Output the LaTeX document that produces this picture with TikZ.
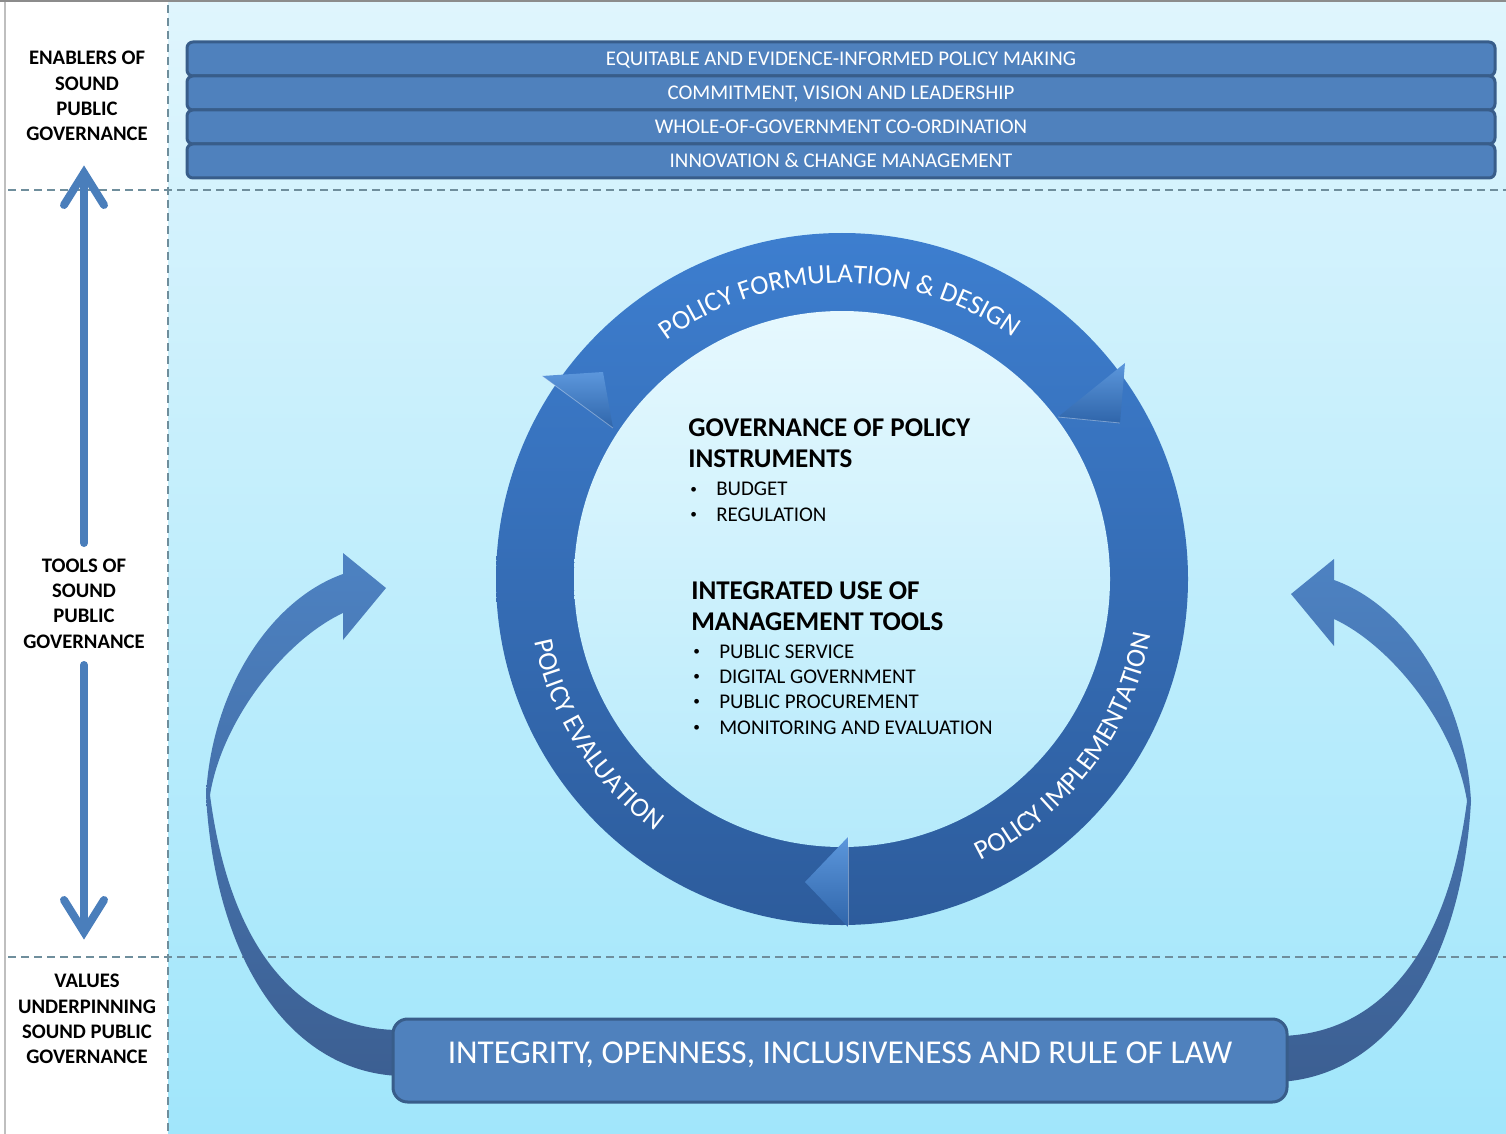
\documentclass[tikz,border=0pt]{standalone}
\usepackage{fontspec}
\setmainfont{Carlito}
\usetikzlibrary{decorations.text}
\definecolor{barfill}{HTML}{4F81BD}
\definecolor{barline}{HTML}{385D8A}
\definecolor{dashc}{HTML}{6F8E9C}
\definecolor{varrow}{HTML}{4A7EBB}
\definecolor{bgtop}{HTML}{DFF5FD}
\definecolor{bgbot}{HTML}{A1E6FB}
\definecolor{ringtop}{HTML}{3D7ECF}
\definecolor{ringbot}{HTML}{2D5C9C}
\definecolor{headlight}{HTML}{5C97DC}
\definecolor{headdark}{HTML}{2F65AA}
\definecolor{carrowtop}{HTML}{4D82C2}
\definecolor{carrowbot}{HTML}{3C5F92}
\definecolor{innertop}{HTML}{E6F8FE}
\definecolor{innerbot}{HTML}{B5EAFB}
\newcommand\ringfont{\fontsize{20.5}{24}\selectfont}
\newcommand\smallbullet{\makebox[21pt][l]{\hspace{1.5pt}\raisebox{1.8pt}{\fontsize{10}{10}\selectfont\textbullet}}}
\begin{document}
\begin{tikzpicture}[x=0.75pt,y=0.75pt,
  barbox/.style={draw=barline, fill=barfill, line width=2.25pt, rounded corners=4.5pt,
    minimum width=981pt, minimum height=25.5pt, inner sep=0pt, text=white,
    font=\fontsize{15.7}{18}\selectfont, text height=10.1pt, text depth=0pt},
  sidelabel/.style={align=center, inner sep=0pt, font=\bfseries\fontsize{15.5}{19}\selectfont},
  titletext/.style={anchor=base west, inner sep=0pt, font=\bfseries\fontsize{20.3}{24}\selectfont},
  itemtext/.style={anchor=base west, inner sep=0pt, font=\fontsize{15.7}{19}\selectfont},
  dashline/.style={draw=dashc, line width=0.8pt, dash pattern=on 6pt off 3.75pt},
  varrowline/.style={draw=varrow, line width=6pt, line cap=round},
  carrowpath/.style={insert path={(386,-588) -- (343,-640) -- (343,-613)
     .. controls (285,-640) and (222,-720) .. (210,-795)
     .. controls (230,-950) and (300,-1030) .. (400,-1030)
     -- (400,-1076)
     .. controls (290,-1072) and (215,-960) .. (206,-795)
     .. controls (212,-690) and (270,-600) .. (343,-574)
     -- (343,-553) -- cycle}},
  carrowfill/.style={top color=carrowtop, bottom color=carrowbot},
  headshade/.style={shading angle=#1, top color=headlight, bottom color=headdark},
  foldline/.style={draw=white, draw opacity=0.35, line width=0.6pt}
]
\useasboundingbox (0,0) rectangle (1506,-1134);
% background
\fill[white] (0,0) rectangle (1506,-1134);
\shade[top color=bgtop, bottom color=bgbot] (168,-3) rectangle (1506,-1134);
\draw[black!45, line width=1.5pt] (0,-1) -- (1506,-1);
\draw[black!25, line width=1pt] (5,-2) -- (5,-1134);
% dashed separators
\draw[dashline] (168,-5) -- (168,-1134);
\draw[dashline] (8,-190) -- (1506,-190);
\draw[dashline] (8,-957) -- (1506,-957);
% enabler bars
\node[barbox] (bar1) at (841,-59) {EQUITABLE AND EVIDENCE-INFORMED POLICY MAKING};
\node[barbox] (bar2) at (841,-93) {COMMITMENT, VISION AND LEADERSHIP};
\node[barbox] (bar3) at (841,-127) {WHOLE-OF-GOVERNMENT CO-ORDINATION};
\node[barbox] (bar4) at (841,-161) {INNOVATION \& CHANGE MANAGEMENT};
% side labels
\node[sidelabel] (enablers) at (87,-96) {ENABLERS OF\\SOUND\\PUBLIC\\GOVERNANCE};
\node[sidelabel] (tools) at (84,-603.5) {TOOLS OF\\SOUND\\PUBLIC\\GOVERNANCE};
\node[sidelabel] (values) at (87,-1019) {VALUES\\UNDERPINNING\\SOUND PUBLIC\\GOVERNANCE};
% vertical double arrow
\coordinate (upTip) at (84,-173);
\coordinate (upStart) at (84,-543);
\coordinate (downTip) at (84,-932);
\coordinate (downStart) at (84,-665);
\draw[varrowline] (upStart) -- (upTip);
\draw[varrowline, line join=miter] (64,-205) -- (upTip) -- (104,-205);
\draw[varrowline] (downStart) -- (downTip);
\draw[varrowline, line join=miter] (64,-900) -- (downTip) -- (104,-900);
% policy cycle ring
\coordinate (cc) at (842,-579);
\shade[top color=ringtop, bottom color=ringbot] (cc) circle (346);
\shade[top color=innertop, bottom color=innerbot] (cc) circle (268);
% arrow heads on the ring
\shade[headshade=30] (542,-376) -- (603,-372) -- (613,-428) -- cycle;
\draw[foldline] (542,-376) -- (613,-428);
\shade[headshade=-20] (1125,-363) -- (1058,-417) -- (1120,-423) -- cycle;
\draw[foldline] (1058,-417) -- (1120,-423);
\shade[headshade=0] (848,-837) -- (805,-882) -- (848,-927) -- cycle;
\draw[foldline] (848,-837) -- (848,-927);
% ring texts
\path[decorate, decoration={text along path, text align=center, text color=white,
   text={|\ringfont|POLICY FORMULATION {\&} DESIGN}}]
   (cc) ++(150:296) arc[start angle=150, end angle=31, radius=296];
\path[decorate, decoration={text along path, text align=center, text color=white,
   text={|\ringfont|POLICY EVALUATION}}]
   (cc) ++(180:314) arc[start angle=180, end angle=245, radius=314];
\path[decorate, decoration={text along path, text align=center, text color=white,
   text={|\ringfont|POLICY IMPLEMENTATION}}]
   (cc) ++(290:314) arc[start angle=290, end angle=356, radius=314];
% inner texts
\node[titletext] (gov1) at (688,-436.5) {GOVERNANCE OF POLICY};
\node[titletext] (gov2) at (688,-467.5) {INSTRUMENTS};
\foreach \t/\yy [count=\i] in {BUDGET/495.8, REGULATION/521} {
  \node[itemtext] (govitem\i) at (688,-\yy) {\smallbullet\t};
}
\node[titletext] (int1) at (691,-599.5) {INTEGRATED USE OF};
\node[titletext] (int2) at (691,-630.5) {MANAGEMENT TOOLS};
\foreach \t/\yy [count=\i] in {PUBLIC SERVICE/658, DIGITAL GOVERNMENT/683, PUBLIC PROCUREMENT/708, MONITORING AND EVALUATION/734} {
  \node[itemtext] (intitem\i) at (691,-\yy) {\smallbullet\t};
}
% curved feedback arrows
\shade[carrowfill, carrowpath];
\begin{scope}[shift={(1677,-6)}, xscale=-1]
  \shade[carrowfill, carrowpath];
\end{scope}
% values box
\node[draw=barline, fill=barfill, line width=2.25pt, rounded corners=11pt,
      minimum width=670.5pt, minimum height=62.25pt, inner sep=0pt, text=white,
      font=\fontsize{25}{28}\selectfont, text height=16.1pt, text depth=12pt]
      (valuesbox) at (840,-1060.5) {INTEGRITY, OPENNESS, INCLUSIVENESS AND RULE OF LAW};
\end{tikzpicture}
\end{document}
